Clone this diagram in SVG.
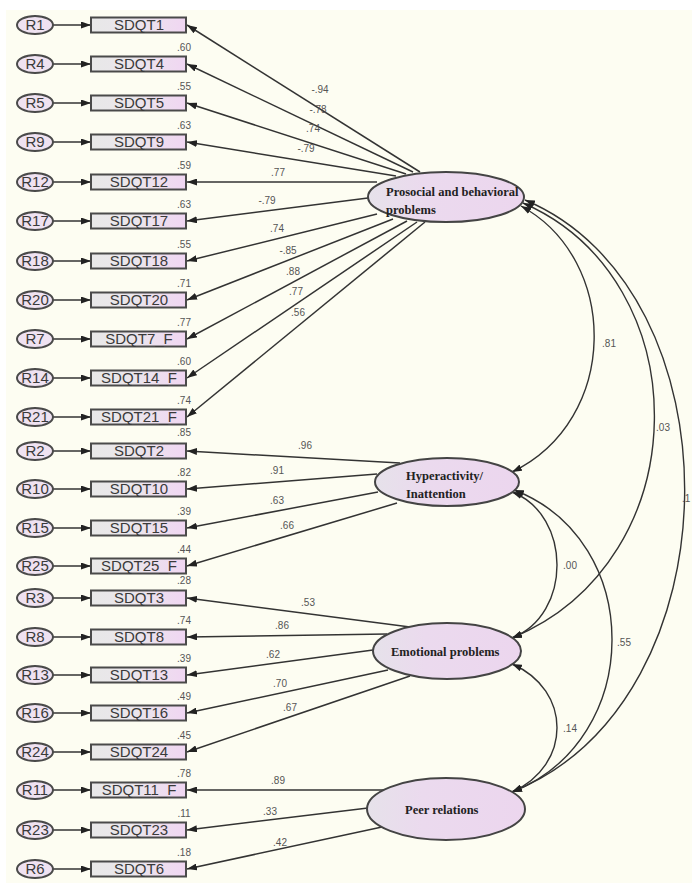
<svg xmlns="http://www.w3.org/2000/svg" width="692" height="883" viewBox="0 0 692 883">
<style>
.bg{fill:#fdfdf2}
.res ellipse{fill:#efe2f1;stroke:#4a4a4a;stroke-width:2}
.res text{font-family:"Liberation Sans",Arial,sans-serif;font-size:15px;fill:#3a3a3a;text-anchor:middle}
.obs rect{fill:url(#boxg);stroke:#4a4a4a;stroke-width:2}
.obs text{font-family:"Liberation Sans",Arial,sans-serif;font-size:15px;fill:#3a3a3a;text-anchor:middle}
.lat ellipse{fill:url(#latg);stroke:#444;stroke-width:2}
.lat text{font-family:"Liberation Serif","Times New Roman",serif;font-size:12.5px;font-weight:bold;fill:#222}
.smc{font-family:"Liberation Sans",Arial,sans-serif;font-size:10px;fill:#555;text-anchor:middle}
.est{font-family:"Liberation Sans",Arial,sans-serif;font-size:10px;fill:#555;text-anchor:middle}
#connectors path,#connectors line{stroke:#333;stroke-width:1.5;fill:none}
#connectors .arr{marker-end:url(#ah)}
#connectors .cov{marker-start:url(#ah);marker-end:url(#ah);stroke-width:1.4}
</style>
<defs>
<linearGradient id="boxg" x1="0" y1="0" x2="1" y2="0">
<stop offset="0" stop-color="#e8e8e8"/><stop offset="0.45" stop-color="#ebe6ec"/><stop offset="1" stop-color="#f0d6f2"/>
</linearGradient>
<linearGradient id="latg" x1="0" y1="0" x2="1" y2="0">
<stop offset="0" stop-color="#e6e2ea"/><stop offset="0.35" stop-color="#ebdaee"/><stop offset="1" stop-color="#ecd6ee"/>
</linearGradient>
<marker id="ah" viewBox="0 0 10 7" refX="10" refY="3.5" markerWidth="10" markerHeight="7" markerUnits="userSpaceOnUse" orient="auto-start-reverse">
<path d="M0,0 L10,3.5 L0,7 z" fill="#222"/>
</marker>
</defs>
<rect x="0" y="0" width="692" height="883" fill="#ffffff"/>
<rect class="bg" x="6" y="10" width="686" height="873"/>

<g id="connectors">
<line class="arr" x1="53" y1="25" x2="91" y2="25"/>
<line class="arr" x1="53" y1="64" x2="91" y2="64"/>
<line class="arr" x1="53" y1="103" x2="91" y2="103"/>
<line class="arr" x1="53" y1="142" x2="91" y2="142"/>
<line class="arr" x1="53" y1="182" x2="91" y2="182"/>
<line class="arr" x1="53" y1="221" x2="91" y2="221"/>
<line class="arr" x1="53" y1="261" x2="91" y2="261"/>
<line class="arr" x1="53" y1="300" x2="91" y2="300"/>
<line class="arr" x1="53" y1="339" x2="91" y2="339"/>
<line class="arr" x1="53" y1="378" x2="91" y2="378"/>
<line class="arr" x1="53" y1="417" x2="91" y2="417"/>
<line class="arr" x1="53" y1="451" x2="91" y2="451"/>
<line class="arr" x1="53" y1="489" x2="91" y2="489"/>
<line class="arr" x1="53" y1="528" x2="91" y2="528"/>
<line class="arr" x1="53" y1="566" x2="91" y2="566"/>
<line class="arr" x1="53" y1="598" x2="91" y2="598"/>
<line class="arr" x1="53" y1="637" x2="91" y2="637"/>
<line class="arr" x1="53" y1="675" x2="91" y2="675"/>
<line class="arr" x1="53" y1="713" x2="91" y2="713"/>
<line class="arr" x1="53" y1="752" x2="91" y2="752"/>
<line class="arr" x1="53" y1="790" x2="91" y2="790"/>
<line class="arr" x1="53" y1="830" x2="91" y2="830"/>
<line class="arr" x1="53" y1="869" x2="91" y2="869"/>
<line class="arr" x1="420" y1="172" x2="187" y2="25"/>
<line class="arr" x1="413" y1="172" x2="187" y2="64"/>
<line class="arr" x1="406" y1="174" x2="187" y2="103"/>
<line class="arr" x1="396" y1="176" x2="187" y2="142"/>
<line class="arr" x1="377" y1="182" x2="187" y2="182"/>
<line class="arr" x1="368" y1="198" x2="187" y2="221"/>
<line class="arr" x1="377" y1="214" x2="187" y2="261"/>
<line class="arr" x1="393" y1="219" x2="187" y2="300"/>
<line class="arr" x1="407" y1="221" x2="187" y2="339"/>
<line class="arr" x1="417" y1="222" x2="187" y2="378"/>
<line class="arr" x1="425" y1="222" x2="187" y2="417"/>
<line class="arr" x1="400" y1="463" x2="187" y2="451"/>
<line class="arr" x1="377" y1="474" x2="187" y2="489"/>
<line class="arr" x1="378" y1="492" x2="187" y2="528"/>
<line class="arr" x1="397" y1="503" x2="187" y2="566"/>
<line class="arr" x1="410" y1="627" x2="187" y2="598"/>
<line class="arr" x1="387" y1="634" x2="187" y2="637"/>
<line class="arr" x1="373" y1="650" x2="187" y2="675"/>
<line class="arr" x1="388" y1="670" x2="187" y2="713"/>
<line class="arr" x1="410" y1="676" x2="187" y2="752"/>
<line class="arr" x1="383" y1="790" x2="187" y2="790"/>
<line class="arr" x1="368" y1="808" x2="187" y2="830"/>
<line class="arr" x1="382" y1="827" x2="187" y2="869"/>
<path class="cov" d="M521,206 C620,260 620,420 512,472"/>
<path class="cov" d="M523,203 C700,280 700,560 512,638"/>
<path class="cov" d="M525,200 C740,290 740,700 512,792"/>
<path class="cov" d="M512,492 C572,515 572,615 512,638"/>
<path class="cov" d="M514,490 C645,540 645,740 512,792"/>
<path class="cov" d="M512,664 C572,690 572,765 512,792"/>
</g>

<g id="residuals" class="res">
<g id="R1"><ellipse cx="35" cy="25" rx="18" ry="9"/><text x="35" y="30">R1</text></g>
<g id="R4"><ellipse cx="35" cy="64" rx="18" ry="9"/><text x="35" y="69">R4</text></g>
<g id="R5"><ellipse cx="35" cy="103" rx="18" ry="9"/><text x="35" y="108">R5</text></g>
<g id="R9"><ellipse cx="35" cy="142" rx="18" ry="9"/><text x="35" y="147">R9</text></g>
<g id="R12"><ellipse cx="35" cy="182" rx="18" ry="9"/><text x="35" y="187">R12</text></g>
<g id="R17"><ellipse cx="35" cy="221" rx="18" ry="9"/><text x="35" y="226">R17</text></g>
<g id="R18"><ellipse cx="35" cy="261" rx="18" ry="9"/><text x="35" y="266">R18</text></g>
<g id="R20"><ellipse cx="35" cy="300" rx="18" ry="9"/><text x="35" y="305">R20</text></g>
<g id="R7"><ellipse cx="35" cy="339" rx="18" ry="9"/><text x="35" y="344">R7</text></g>
<g id="R14"><ellipse cx="35" cy="378" rx="18" ry="9"/><text x="35" y="383">R14</text></g>
<g id="R21"><ellipse cx="35" cy="417" rx="18" ry="9"/><text x="35" y="422">R21</text></g>
<g id="R2"><ellipse cx="35" cy="451" rx="18" ry="9"/><text x="35" y="456">R2</text></g>
<g id="R10"><ellipse cx="35" cy="489" rx="18" ry="9"/><text x="35" y="494">R10</text></g>
<g id="R15"><ellipse cx="35" cy="528" rx="18" ry="9"/><text x="35" y="533">R15</text></g>
<g id="R25"><ellipse cx="35" cy="566" rx="18" ry="9"/><text x="35" y="571">R25</text></g>
<g id="R3"><ellipse cx="35" cy="598" rx="18" ry="9"/><text x="35" y="603">R3</text></g>
<g id="R8"><ellipse cx="35" cy="637" rx="18" ry="9"/><text x="35" y="642">R8</text></g>
<g id="R13"><ellipse cx="35" cy="675" rx="18" ry="9"/><text x="35" y="680">R13</text></g>
<g id="R16"><ellipse cx="35" cy="713" rx="18" ry="9"/><text x="35" y="718">R16</text></g>
<g id="R24"><ellipse cx="35" cy="752" rx="18" ry="9"/><text x="35" y="757">R24</text></g>
<g id="R11"><ellipse cx="35" cy="790" rx="18" ry="9"/><text x="35" y="795">R11</text></g>
<g id="R23"><ellipse cx="35" cy="830" rx="18" ry="9"/><text x="35" y="835">R23</text></g>
<g id="R6"><ellipse cx="35" cy="869" rx="18" ry="9"/><text x="35" y="874">R6</text></g>
</g>

<g id="smcs">
<text class="smc" x="184" y="51">.60</text>
<text class="smc" x="184" y="90">.55</text>
<text class="smc" x="184" y="129">.63</text>
<text class="smc" x="184" y="169">.59</text>
<text class="smc" x="184" y="208">.63</text>
<text class="smc" x="184" y="248">.55</text>
<text class="smc" x="184" y="287">.71</text>
<text class="smc" x="184" y="326">.77</text>
<text class="smc" x="184" y="365">.60</text>
<text class="smc" x="184" y="404">.74</text>
<text class="smc" x="184" y="436">.85</text>
<text class="smc" x="184" y="476">.82</text>
<text class="smc" x="184" y="515">.39</text>
<text class="smc" x="184" y="553">.44</text>
<text class="smc" x="184" y="584">.28</text>
<text class="smc" x="184" y="624">.74</text>
<text class="smc" x="184" y="662">.39</text>
<text class="smc" x="184" y="700">.49</text>
<text class="smc" x="184" y="739">.45</text>
<text class="smc" x="184" y="777">.78</text>
<text class="smc" x="184" y="817">.11</text>
<text class="smc" x="184" y="856">.18</text>
</g>

<g id="observed" class="obs">
<g id="SDQT1"><rect x="91" y="17.5" width="95" height="15"/><text x="139" y="30">SDQT1</text></g>
<g id="SDQT4"><rect x="91" y="56.5" width="95" height="15"/><text x="139" y="69">SDQT4</text></g>
<g id="SDQT5"><rect x="91" y="95.5" width="95" height="15"/><text x="139" y="108">SDQT5</text></g>
<g id="SDQT9"><rect x="91" y="134.5" width="95" height="15"/><text x="139" y="147">SDQT9</text></g>
<g id="SDQT12"><rect x="91" y="174.5" width="95" height="15"/><text x="139" y="187">SDQT12</text></g>
<g id="SDQT17"><rect x="91" y="213.5" width="95" height="15"/><text x="139" y="226">SDQT17</text></g>
<g id="SDQT18"><rect x="91" y="253.5" width="95" height="15"/><text x="139" y="266">SDQT18</text></g>
<g id="SDQT20"><rect x="91" y="292.5" width="95" height="15"/><text x="139" y="305">SDQT20</text></g>
<g id="SDQT7_F"><rect x="91" y="331.5" width="95" height="15"/><text x="139" y="344">SDQT7_F</text></g>
<g id="SDQT14_F"><rect x="91" y="370.5" width="95" height="15"/><text x="139" y="383">SDQT14_F</text></g>
<g id="SDQT21_F"><rect x="91" y="409.5" width="95" height="15"/><text x="139" y="422">SDQT21_F</text></g>
<g id="SDQT2"><rect x="91" y="443.5" width="95" height="15"/><text x="139" y="456">SDQT2</text></g>
<g id="SDQT10"><rect x="91" y="481.5" width="95" height="15"/><text x="139" y="494">SDQT10</text></g>
<g id="SDQT15"><rect x="91" y="520.5" width="95" height="15"/><text x="139" y="533">SDQT15</text></g>
<g id="SDQT25_F"><rect x="91" y="558.5" width="95" height="15"/><text x="139" y="571">SDQT25_F</text></g>
<g id="SDQT3"><rect x="91" y="590.5" width="95" height="15"/><text x="139" y="603">SDQT3</text></g>
<g id="SDQT8"><rect x="91" y="629.5" width="95" height="15"/><text x="139" y="642">SDQT8</text></g>
<g id="SDQT13"><rect x="91" y="667.5" width="95" height="15"/><text x="139" y="680">SDQT13</text></g>
<g id="SDQT16"><rect x="91" y="705.5" width="95" height="15"/><text x="139" y="718">SDQT16</text></g>
<g id="SDQT24"><rect x="91" y="744.5" width="95" height="15"/><text x="139" y="757">SDQT24</text></g>
<g id="SDQT11_F"><rect x="91" y="782.5" width="95" height="15"/><text x="139" y="795">SDQT11_F</text></g>
<g id="SDQT23"><rect x="91" y="822.5" width="95" height="15"/><text x="139" y="835">SDQT23</text></g>
<g id="SDQT6"><rect x="91" y="861.5" width="95" height="15"/><text x="139" y="874">SDQT6</text></g>
</g>

<g id="latents" class="lat">
<g id="Prosocial"><ellipse cx="446" cy="197" rx="78" ry="25"/><text x="386" y="196">Prosocial and behavioral</text><text x="386" y="214">problems</text></g>
<g id="Hyperactivity"><ellipse cx="447" cy="482" rx="72" ry="24"/><text x="406" y="480">Hyperactivity/</text><text x="406" y="498">Inattention</text></g>
<g id="Emotional"><ellipse cx="447" cy="651" rx="74" ry="28"/><text x="391" y="656">Emotional problems</text></g>
<g id="Peer"><ellipse cx="446" cy="809" rx="79" ry="31"/><text x="405" y="814">Peer relations</text></g>
</g>

<g id="estimates">
<text class="est" x="320" y="93">-.94</text>
<text class="est" x="318" y="113">-.78</text>
<text class="est" x="313" y="132">.74</text>
<text class="est" x="306" y="152">-.79</text>
<text class="est" x="278" y="176">.77</text>
<text class="est" x="267" y="204">-.79</text>
<text class="est" x="277" y="232">.74</text>
<text class="est" x="288" y="254">-.85</text>
<text class="est" x="293" y="275">.88</text>
<text class="est" x="296" y="295">.77</text>
<text class="est" x="298" y="316">.56</text>
<text class="est" x="305" y="449">.96</text>
<text class="est" x="277" y="474">.91</text>
<text class="est" x="277" y="504">.63</text>
<text class="est" x="287" y="529">.66</text>
<text class="est" x="308" y="606">.53</text>
<text class="est" x="282" y="629">.86</text>
<text class="est" x="273" y="658">.62</text>
<text class="est" x="280" y="687">.70</text>
<text class="est" x="290" y="711">.67</text>
<text class="est" x="278" y="784">.89</text>
<text class="est" x="270" y="815">.33</text>
<text class="est" x="280" y="846">.42</text>
<text class="est" x="609" y="347">.81</text>
<text class="est" x="663" y="431">.03</text>
<text class="est" x="570" y="569">.00</text>
<text class="est" x="624" y="646">.55</text>
<text class="est" x="570" y="732">.14</text>
<text class="est" x="682" y="502" style="text-anchor:start">.1</text>
</g>
</svg>
